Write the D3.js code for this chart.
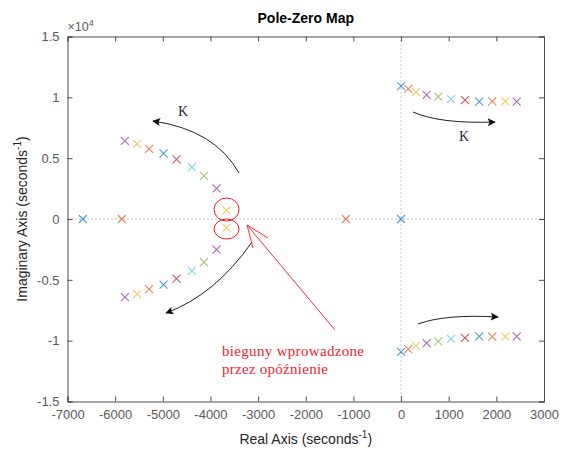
<!DOCTYPE html>
<html><head><meta charset="utf-8">
<script src="https://cdn.jsdelivr.net/npm/d3@7"></script>
<style>body{margin:0;background:#fff}svg{display:block}</style>
</head><body>
<svg id="c" width="563" height="453"></svg>
<script>
// ---- data (imag in units of 1e4 s^-1) ----
const xTicks = [-7000,-6000,-5000,-4000,-3000,-2000,-1000,0,1000,2000,3000];
const xTickLabels = ["-7000","-6000","-5000","-4000","-3000","-2000","-1000","0","1000","2000","3000"];
const yTicks = [-1.5,-1,-0.5,0,0.5,1,1.5];
const yTickLabels = ["-1.5","-1","-0.5","0","0.5","1","1.5"];
// right (oscillatory) branch, system index 0..10
const rightSys = [0,1,2,3,4,5,6,7,8,9,10];
const rightRe  = [0,151,313,537,781,1047,1341,1642,1915,2188,2427];
const rightIm  = [1.093,1.070,1.043,1.020,1.006,0.986,0.977,0.964,0.966,0.966,0.964];
// left complex branch, system index 3..10
const leftSys = [3,4,5,6,7,8,9,10];
const leftRe  = [-3872,-4138,-4390,-4712,-4984,-5287,-5539,-5797];
const leftIm  = [0.252,0.354,0.427,0.490,0.540,0.576,0.617,0.642];
// break-away pair (system 2)
const breakSys = [2];
const breakRe = [-3662];
const breakIm = [0.070];
// real poles
const realSys = [0,1,1,0];
const realRe  = [-6679,-5860,-1157,0];
const palette = ["#0072BD","#D95319","#EDB120","#7E2F8E","#77AC30","#4DBEEE","#A2142F"];

// ---- build pole list ----
const poles = [];
rightSys.forEach((s,i)=>{poles.push({s,re:rightRe[i],im:rightIm[i]});poles.push({s,re:rightRe[i],im:-rightIm[i]});});
leftSys.forEach((s,i)=>{poles.push({s,re:leftRe[i],im:leftIm[i]});poles.push({s,re:leftRe[i],im:-leftIm[i]});});
breakSys.forEach((s,i)=>{poles.push({s,re:breakRe[i],im:breakIm[i]});poles.push({s,re:breakRe[i],im:-breakIm[i]});});
realSys.forEach((s,i)=>poles.push({s,re:realRe[i],im:0}));

const svg = d3.select("#c");
const L=67.5,R=544,T=36.5,B=401.5;
const x = d3.scaleLinear().domain([-7000,3000]).range([L,R]);
const y = d3.scaleLinear().domain([-1.5,1.5]).range([B,T]);
const gray="#4d4d4d", tgray="#595959";
const font="'Liberation Sans', Arial, sans-serif";

// dotted zero lines
svg.append("line").attr("x1",L).attr("x2",R).attr("y1",y(0)).attr("y2",y(0))
  .attr("stroke","#8a8a8a").attr("stroke-width",1).attr("stroke-dasharray","1,3");
svg.append("line").attr("x1",x(0)).attr("x2",x(0)).attr("y1",T).attr("y2",B)
  .attr("stroke","#8a8a8a").attr("stroke-width",1).attr("stroke-dasharray","1,3");

// axes
const ax = svg.append("g").attr("transform",`translate(0,${B})`)
  .call(d3.axisBottom(x).tickValues(xTicks).tickSize(-5).tickPadding(8).tickFormat((d,i)=>xTickLabels[i]));
const axT = svg.append("g").attr("transform",`translate(0,${T})`)
  .call(d3.axisTop(x).tickValues(xTicks).tickSize(-5).tickFormat(""));
const ay = svg.append("g").attr("transform",`translate(${L},0)`)
  .call(d3.axisLeft(y).tickValues(yTicks).tickSize(-5).tickPadding(8).tickFormat((d,i)=>yTickLabels[i]));
const ayR = svg.append("g").attr("transform",`translate(${R},0)`)
  .call(d3.axisRight(y).tickValues(yTicks).tickSize(-5).tickFormat(""));
[ax,axT,ay,ayR].forEach(g=>{
  g.selectAll("path").attr("stroke",gray).attr("stroke-width",1);
  g.selectAll("line").attr("stroke",gray);
  g.selectAll("text").attr("fill",tgray).style("font-family",font).style("font-size","13px");
});
ax.selectAll("text").attr("dy","0.75em");

// exponent
const ex = svg.append("text").attr("x",L).attr("y",31).attr("fill",tgray)
  .style("font-family",font).style("font-size","12.5px");
ex.append("tspan").text("\u00d710");
ex.append("tspan").attr("dy",-5).style("font-size","9px").text("4");

// title and labels
svg.append("text").attr("x",(L+R)/2).attr("y",23).attr("text-anchor","middle")
  .style("font-family",font).style("font-size","14px").style("font-weight","bold").attr("fill","#000").text("Pole-Zero Map");
const xl = svg.append("text").attr("x",(L+R)/2).attr("y",444).attr("text-anchor","middle")
  .style("font-family",font).style("font-size","14px").attr("fill","#262626");
xl.append("tspan").text("Real Axis (seconds");
xl.append("tspan").attr("dy",-6).style("font-size","10px").text("-1");
xl.append("tspan").attr("dy",6).text(")");
const yl = svg.append("text").attr("transform",`translate(27,${(T+B)/2}) rotate(-90)`).attr("text-anchor","middle")
  .style("font-family",font).style("font-size","14px").attr("fill","#262626");
yl.append("tspan").text("Imaginary Axis (seconds");
yl.append("tspan").attr("dy",-6).style("font-size","10px").text("-1");
yl.append("tspan").attr("dy",6).text(")");

// pole markers
const m=4;
svg.append("g").selectAll("path").data(poles).join("path")
  .attr("d",d=>{const cx=x(d.re),cy=y(d.im);return `M${cx-m},${cy-m}L${cx+m},${cy+m}M${cx-m},${cy+m}L${cx+m},${cy-m}`;})
  .attr("stroke",d=>palette[d.s%7]).attr("stroke-width",1.1).attr("fill","none").attr("opacity",0.7);

// ---- annotations ----
const defs = svg.append("defs");
defs.append("marker").attr("id","ah").attr("viewBox","0 0 10 10").attr("refX",9).attr("refY",5)
  .attr("markerWidth",10).attr("markerHeight",8).attr("orient","auto").attr("markerUnits","userSpaceOnUse")
  .append("path").attr("d","M0,0L10,5L0,10L2,5Z").attr("fill","#111");
const arrows = [
  "M239,173 Q215,130 153,121",
  "M252,242 Q215,295 166,313",
  "M413,112 Q440,124 495,122",
  "M418,324 Q445,314 498,317"
];
svg.append("g").selectAll("path").data(arrows).join("path").attr("d",d=>d)
  .attr("fill","none").attr("stroke","#222").attr("stroke-width",1).attr("marker-end","url(#ah)");
svg.append("text").attr("x",183).attr("y",116).attr("text-anchor","middle").style("font-family","'Liberation Serif',serif")
  .style("font-size","14px").attr("fill","#1a2a40").text("K");
svg.append("text").attr("x",464).attr("y",141).attr("text-anchor","middle").style("font-family","'Liberation Serif',serif")
  .style("font-size","14px").attr("fill","#1a2a40").text("K");
// red circles
svg.append("ellipse").attr("cx",x(breakRe[0])).attr("cy",209.5).attr("rx",12.5).attr("ry",11.5)
  .attr("fill","none").attr("stroke","#e8202a").attr("stroke-width",1);
svg.append("ellipse").attr("cx",x(breakRe[0])).attr("cy",229).attr("rx",12.5).attr("ry",10)
  .attr("fill","none").attr("stroke","#e8202a").attr("stroke-width",1);
// red arrow
svg.append("path").attr("d","M335,330 L247,225 M268,238 L247,225 L253,248")
  .attr("fill","none").attr("stroke","#f03040").attr("stroke-width",1);
const rt = svg.append("text").style("font-family","'Liberation Serif',serif").style("font-size","15px").attr("fill","#ee2233");
rt.append("tspan").attr("x",222).attr("y",356).attr("textLength",142).text("bieguny wprowadzone");
rt.append("tspan").attr("x",222).attr("y",374).attr("textLength",106).text("przez opóźnienie");
</script>
</body></html>
